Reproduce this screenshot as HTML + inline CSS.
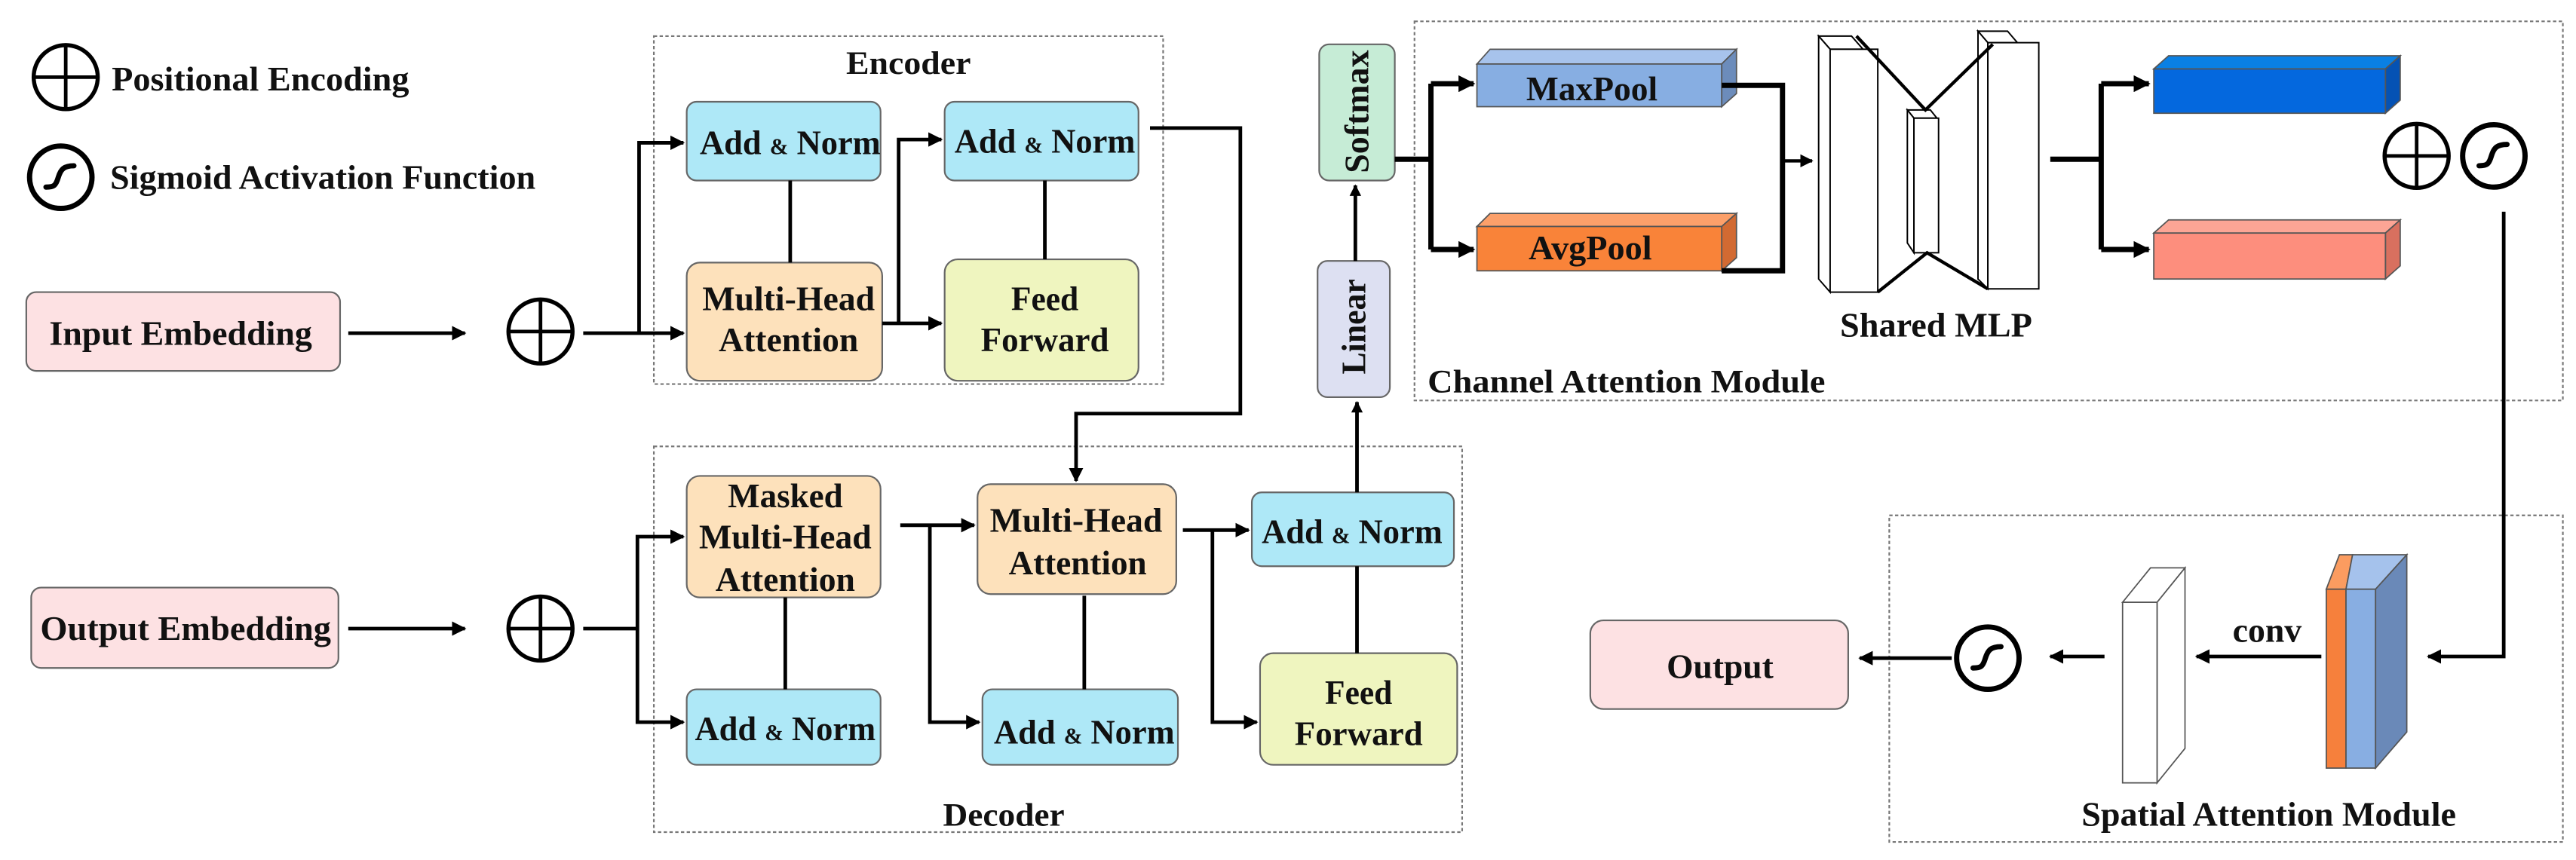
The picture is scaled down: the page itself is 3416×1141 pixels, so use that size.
<!DOCTYPE html>
<html><head><meta charset="utf-8"><style>
html,body{margin:0;padding:0;background:#fff;width:3416px;height:1141px;overflow:hidden}
svg{display:block}
text{font-family:"Liberation Serif",serif;font-weight:bold;fill:#111}
</style></head><body>
<svg width="3416" height="1141" viewBox="0 0 1568 524" preserveAspectRatio="none" xmlns="http://www.w3.org/2000/svg">
<defs>
<marker id="a" viewBox="0 0 10 10" refX="9" refY="5" markerWidth="4" markerHeight="4" orient="auto"><path d="M0,0L10,5L0,10z" fill="#000"/></marker>
<marker id="b" viewBox="0 0 10 10" refX="9" refY="5" markerWidth="3.2" markerHeight="3.2" orient="auto"><path d="M0,0L10,5L0,10z" fill="#000"/></marker>
<g id="plus"><circle cx="0" cy="0" r="19.5" fill="#fff" stroke="#000" stroke-width="2.5"/><line x1="-19.5" y1="0" x2="19.5" y2="0" stroke="#000" stroke-width="2.2"/><line x1="0" y1="-19.5" x2="0" y2="19.5" stroke="#000" stroke-width="2.2"/></g>
<g id="sig"><circle cx="0" cy="0" r="19" fill="#fff" stroke="#000" stroke-width="3.2"/><path d="M-9,6 C-4,6 -3,5 -1.5,0 C0,-5 2,-7 8,-7" fill="none" stroke="#000" stroke-width="3.2" stroke-linecap="round"/></g>
</defs>
<g fill="none" stroke="#777" stroke-width="1" stroke-dasharray="2,1.5">
<rect x="398" y="22" width="310" height="212"/>
<rect x="398" y="272" width="492" height="235"/>
<rect x="861" y="13" width="699" height="231"/>
<rect x="1150" y="314" width="410" height="199"/>
</g>
<!-- legend -->
<use href="#plus" x="40" y="47"/>
<use href="#sig" x="37" y="108"/>
<text x="68" y="55" font-size="21" textLength="181" lengthAdjust="spacingAndGlyphs">Positional Encoding</text>
<text x="67" y="115" font-size="21" textLength="259" lengthAdjust="spacingAndGlyphs">Sigmoid Activation Function</text>
<text x="553" y="45" font-size="20" text-anchor="middle" textLength="76" lengthAdjust="spacingAndGlyphs">Encoder</text>
<text x="611" y="503" font-size="20" text-anchor="middle" textLength="74" lengthAdjust="spacingAndGlyphs">Decoder</text>
<text x="869" y="239" font-size="20" textLength="242" lengthAdjust="spacingAndGlyphs">Channel Attention Module</text>
<text x="1120" y="205" font-size="21" textLength="117" lengthAdjust="spacingAndGlyphs">Shared MLP</text>
<text x="1267" y="503" font-size="21" textLength="228" lengthAdjust="spacingAndGlyphs">Spatial Attention Module</text>
<g stroke="#666" stroke-width="1">
<rect x="16" y="178" width="191" height="48" rx="6" fill="#fde1e3"/>
<rect x="19" y="358" width="187" height="49" rx="6" fill="#fde1e3"/>
<rect x="968" y="378" width="157" height="54" rx="8" fill="#fde1e3"/>
<rect x="418" y="62" width="118" height="48" rx="6" fill="#aee8f7"/>
<rect x="575" y="62" width="118" height="48" rx="6" fill="#aee8f7"/>
<rect x="418" y="160" width="119" height="72" rx="8" fill="#fde1bb"/>
<rect x="575" y="158" width="118" height="74" rx="8" fill="#eff5bf"/>
<rect x="418" y="290" width="118" height="74" rx="8" fill="#fde1bb"/>
<rect x="418" y="420" width="118" height="46" rx="6" fill="#aee8f7"/>
<rect x="595" y="295" width="121" height="67" rx="8" fill="#fde1bb"/>
<rect x="598" y="420" width="119" height="46" rx="6" fill="#aee8f7"/>
<rect x="762" y="300" width="123" height="45" rx="6" fill="#aee8f7"/>
<rect x="767" y="398" width="120" height="68" rx="8" fill="#eff5bf"/>
<rect x="802" y="159" width="44" height="83" rx="6" fill="#dde0f2"/>
<rect x="803" y="27" width="46" height="83" rx="6" fill="#c6ecd6"/>
</g>
<!-- pools -->
<g stroke="#555" stroke-width="0.8">
<polygon points="899,39 907,30 1057,30 1048,39" fill="#a7c3ec"/>
<polygon points="1048,39 1057,30 1057,57 1048,65" fill="#6c8cbb"/>
<rect x="899" y="39" width="149" height="26" fill="#87aee2"/>
<polygon points="899,138 907,130 1057,130 1048,138" fill="#fca06a"/>
<polygon points="1048,138 1057,130 1057,157 1048,165" fill="#d26a32"/>
<rect x="899" y="138" width="149" height="27" fill="#f98339"/>
<polygon points="1311,42 1320,34 1461,34 1452,42" fill="#0a80e4"/>
<polygon points="1452,42 1461,34 1461,61 1452,69" fill="#0552b4"/>
<rect x="1311" y="42" width="141" height="27" fill="#0468de"/>
<polygon points="1311,142 1320,134 1461,134 1452,142" fill="#fca595"/>
<polygon points="1452,142 1461,134 1461,162 1452,170" fill="#d8705f"/>
<rect x="1311" y="142" width="141" height="28" fill="#fd8e7d"/>
</g>
<g font-size="21">
<text x="110" y="210" text-anchor="middle" textLength="160" lengthAdjust="spacingAndGlyphs">Input Embedding</text>
<text x="113" y="390" text-anchor="middle" textLength="177" lengthAdjust="spacingAndGlyphs">Output Embedding</text>
<text x="1047" y="413" text-anchor="middle" textLength="65" lengthAdjust="spacingAndGlyphs">Output</text>
<text x="481" y="94" text-anchor="middle" textLength="110" lengthAdjust="spacingAndGlyphs">Add <tspan font-size="14">&amp;</tspan> Norm</text>
<text x="636" y="93" text-anchor="middle" textLength="110" lengthAdjust="spacingAndGlyphs">Add <tspan font-size="14">&amp;</tspan> Norm</text>
<text x="478" y="451" text-anchor="middle" textLength="110" lengthAdjust="spacingAndGlyphs">Add <tspan font-size="14">&amp;</tspan> Norm</text>
<text x="660" y="453" text-anchor="middle" textLength="110" lengthAdjust="spacingAndGlyphs">Add <tspan font-size="14">&amp;</tspan> Norm</text>
<text x="823" y="331" text-anchor="middle" textLength="110" lengthAdjust="spacingAndGlyphs">Add <tspan font-size="14">&amp;</tspan> Norm</text>
<text x="480" y="189" text-anchor="middle" textLength="105" lengthAdjust="spacingAndGlyphs">Multi-Head</text>
<text x="480" y="214" text-anchor="middle" textLength="85" lengthAdjust="spacingAndGlyphs">Attention</text>
<text x="636" y="189" text-anchor="middle" textLength="41" lengthAdjust="spacingAndGlyphs">Feed</text>
<text x="636" y="214" text-anchor="middle" textLength="78" lengthAdjust="spacingAndGlyphs">Forward</text>
<text x="478" y="309" text-anchor="middle" textLength="70" lengthAdjust="spacingAndGlyphs">Masked</text>
<text x="478" y="334" text-anchor="middle" textLength="105" lengthAdjust="spacingAndGlyphs">Multi-Head</text>
<text x="478" y="360" text-anchor="middle" textLength="85" lengthAdjust="spacingAndGlyphs">Attention</text>
<text x="655" y="324" text-anchor="middle" textLength="105" lengthAdjust="spacingAndGlyphs">Multi-Head</text>
<text x="656" y="350" text-anchor="middle" textLength="84" lengthAdjust="spacingAndGlyphs">Attention</text>
<text x="827" y="429" text-anchor="middle" textLength="41" lengthAdjust="spacingAndGlyphs">Feed</text>
<text x="827" y="454" text-anchor="middle" textLength="78" lengthAdjust="spacingAndGlyphs">Forward</text>
<text x="831" y="199" text-anchor="middle" transform="rotate(-90 831 199)" textLength="58" lengthAdjust="spacingAndGlyphs">Linear</text>
<text x="833" y="68" text-anchor="middle" transform="rotate(-90 833 68)" textLength="75" lengthAdjust="spacingAndGlyphs">Softmax</text>
<text x="1380" y="391" text-anchor="middle" textLength="42" lengthAdjust="spacingAndGlyphs">conv</text>
<text x="969" y="61" text-anchor="middle" textLength="80" lengthAdjust="spacingAndGlyphs">MaxPool</text>
<text x="968" y="158" text-anchor="middle" textLength="75" lengthAdjust="spacingAndGlyphs">AvgPool</text>
</g>
<use href="#plus" x="329" y="202"/>
<use href="#plus" x="329" y="383"/>
<use href="#plus" x="1471" y="95"/>
<use href="#sig" x="1518" y="95"/>
<use href="#sig" x="1210" y="401"/>
<g stroke="#000" stroke-width="2.2" fill="none">
<path d="M212,203H283" marker-end="url(#a)"/>
<path d="M212,383H283" marker-end="url(#a)"/>
<path d="M355,203H416" marker-end="url(#a)"/>
<path d="M389,203V87H416" marker-end="url(#a)"/>
<path d="M537,197H573" marker-end="url(#a)"/>
<path d="M547,197V85H573" marker-end="url(#a)"/>
<path d="M481,110V160M636,110V158M478,364V420M660,363V420M826,345V398"/>
<path d="M700,78H755V252H655V293" marker-end="url(#a)"/>
<path d="M355,383H388"/>
<path d="M388,383V327H416" marker-end="url(#a)"/>
<path d="M388,383V440H416" marker-end="url(#a)"/>
<path d="M548,320H593" marker-end="url(#a)"/>
<path d="M566,320V440H596" marker-end="url(#a)"/>
<path d="M720,323H760" marker-end="url(#a)"/>
<path d="M738,323V440H765" marker-end="url(#a)"/>
<path d="M826,300V245" marker-end="url(#b)"/>
<path d="M825,159V113" marker-end="url(#b)"/>
<path d="M1524,129V400H1478" marker-end="url(#a)"/>
<path d="M1413,400H1337" marker-end="url(#a)"/>
<path d="M1281,400H1248" marker-end="url(#a)"/>
<path d="M1188,401H1132" marker-end="url(#a)"/>
</g>
<g stroke="#000" stroke-width="3.2" fill="none">
<path d="M849,97H871"/>
<path d="M871,51V152"/>
<path d="M871,51H897" marker-end="url(#b)"/>
<path d="M871,152H897" marker-end="url(#b)"/>
<path d="M1048,52H1085V165H1048"/>
<path d="M1085,98H1103" stroke-width="2" marker-end="url(#a)"/>
<path d="M1248,97H1279"/>
<path d="M1279,51V152"/>
<path d="M1279,51H1308" marker-end="url(#b)"/>
<path d="M1279,152H1308" marker-end="url(#b)"/>
</g>
<!-- shared MLP -->
<g stroke="#000" stroke-width="0.9" fill="#fff">
<polygon points="1107,22 1127,22 1134,30 1114,30"/>
<polygon points="1107,22 1114,30 1114,178 1107,170"/>
<rect x="1114" y="30" width="29" height="148"/>
<polygon points="1204,19 1222,19 1228,26 1210,26"/>
<polygon points="1204,19 1210,26 1210,176 1204,170"/>
<rect x="1210" y="26" width="31" height="150"/>
<polygon points="1161,67 1175,67 1179,72 1165,72"/>
<polygon points="1161,67 1165,72 1165,154 1161,148"/>
<rect x="1165" y="72" width="15" height="82"/>
</g>
<g stroke="#000" stroke-width="2" fill="none">
<path d="M1130,22L1172,67L1213,27"/>
<path d="M1143,178L1173,154L1210,176"/>
</g>
<!-- spatial slabs -->
<g stroke="#555" stroke-width="0.8">
<polygon points="1292,367 1313,367 1330,346 1309,346" fill="#fff"/>
<polygon points="1313,367 1330,346 1330,456 1313,477" fill="#fff"/>
<rect x="1292" y="367" width="21" height="110" fill="#fff"/>
<polygon points="1416,359 1424,338 1432,338 1428,359" fill="#fb9c60"/>
<rect x="1416" y="359" width="12" height="109" fill="#f6803c"/>
<polygon points="1428,359 1432,338 1465,338 1446,359" fill="#a5c2ec"/>
<rect x="1428" y="359" width="18" height="109" fill="#88aee2"/>
<polygon points="1446,359 1465,338 1465,446 1446,468" fill="#6a89b8"/>
</g>
</svg>
</body></html>
